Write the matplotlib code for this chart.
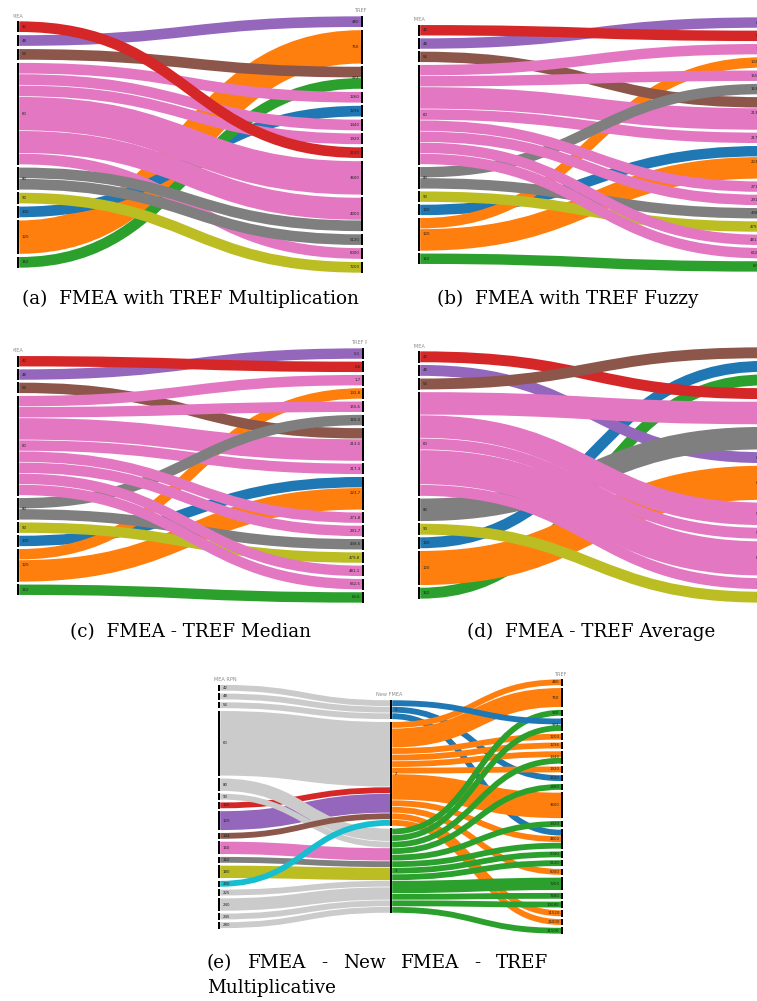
import matplotlib
matplotlib.use("Agg")
import matplotlib.pyplot as plt
from matplotlib.path import Path
from matplotlib.patches import PathPatch, Rectangle

# ---------------- data ----------------
fmea_rpn = ["42", "48", "54", "60", "80", "90", "100", "120", "162"]

# (a) FMEA -> TREF multiplication
a_right = ["480", "750", "972", "1260", "1296", "1440", "1920", "2520",
           "3600", "4000", "5120", "6000", "7200"]
a_src = ["120", "100", "162", "60", "60", "60", "60", "60", "60", "80", "80", "90", "54", "48", "42"]
a_tgt = ["750", "1296", "972", "1260", "1440", "1920", "3600", "4000", "6000", "4000", "5120", "7200", "972", "480", "2520"]
a_val = [3, 1, 1, 1, 1, 1, 3, 2, 1, 1, 1, 1, 1, 1, 1]

# (b) FMEA -> TREF fuzzy
b_right = ["0,1", "0,6", "1,7", "132,8", "155,6", "163,0", "213,5", "217,3", "223,7",
           "271,8", "291,7", "438,6", "479,8", "481,1", "662,5", "63,6"]
# (c) FMEA -> TREF median
c_right = ["0,1", "0,6", "1,7", "132,8", "155,6", "160,0", "213,5", "217,3", "223,7",
           "271,8", "291,7", "438,6", "479,8", "481,1", "662,5", "63,6"]
bc_src = ["162", "100", "120", "120", "90", "80", "54", "60", "60", "80", "60", "60",
          "60", "60", "60", "60", "48", "42"]
bc_tgt_idx = [15, 8, 8, 3, 12, 11, 6, 6, 7, 5, 2, 4, 9, 10, 13, 14, 0, 1]
bc_val = [1, 1, 2, 1, 1, 1, 1, 2, 1, 1, 1, 1, 1, 1, 1, 1, 1, 1]

# (d) FMEA -> TREF average
d_right = ["1", "2", "3", "4", "5", "6", "6,0", "6,3", "5,1", "5,4", "6,2", "7,0", "7,4"]
d_src = ["100", "162", "120", "48", "80", "60", "60", "60", "60", "60", "90", "42", "54"]
d_tgt_idx = [1, 2, 7, 6, 5, 4, 8, 9, 10, 11, 12, 3, 0]
d_val = [1, 1, 3, 1, 2, 2, 2, 1, 3, 1, 1, 1, 1]

# (e) FMEA -> New FMEA -> TREF multiplicative
e_left = ["42", "48", "54", "60", "80", "90", "100", "120", "144", "160", "162",
          "180", "200", "225", "240", "245", "280"]
e_mid = ["1", "2", "3"]
e_right = ["480", "750", "960", "972", "1200", "1296", "1440", "1920", "2520", "2880",
           "3600", "3920", "4800", "5040", "5120", "6000", "7200", "7680", "10080",
           "11520", "16000", "31500"]
e1_src = ["42", "48", "54", "60", "225", "240", "245", "280", "100", "120", "80", "90",
          "144", "160", "162", "180", "200"]
e1_tgt = ["1", "1", "1", "2", "3", "3", "3", "3", "2", "2", "3", "3", "2", "3", "3", "3", "2"]
e1_val = [1, 1, 1, 10, 1, 2, 1, 1, 1, 3, 2, 1, 1, 2, 1, 2, 1]
e2_src = ["1", "1",
          "2", "2", "2", "2", "2", "2", "2", "2", "2", "2", "2",
          "3", "3", "3", "3", "3", "3", "3", "3", "3", "3", "3", "3",
          "1"]
e2_tgt = ["2520", "4800",
          "480", "750", "1200", "1296", "1440", "1920", "3600", "4800", "6000", "11520", "16000",
          "960", "972", "1440", "2880", "3920", "4800", "5040", "5120", "7200", "7680", "10080", "31500",
          "972"]
e2_val = [1, 1,
          1, 3, 1, 1, 1, 1, 4, 1, 1, 1, 1,
          1, 1, 1, 1, 1, 1, 1, 1, 2, 1, 1, 1,
          1]

# ---------------- styles ----------------
rpn_colors = {"42": "#d62728", "48": "#9467bd", "54": "#8c564b", "60": "#e377c2",
              "80": "#7f7f7f", "90": "#bcbd22", "100": "#1f77b4", "120": "#ff7f0e",
              "162": "#2ca02c"}
e_left_colors = {"100": "#d62728", "120": "#9467bd", "144": "#8c564b", "160": "#e377c2",
                 "162": "#7f7f7f", "180": "#bcbd22", "200": "#17becf"}
e_mid_colors = {"1": "#1f77b4", "2": "#ff7f0e", "3": "#2ca02c"}
light = "#cbcbcb"

W, H = 757, 1001
fig = plt.figure(figsize=(W / 100, H / 100), dpi=100)


def panel(x0, y0, x1, y1):
    ax = fig.add_axes([x0 / W, 1 - y1 / H, (x1 - x0) / W, (y1 - y0) / H])
    ax.set_xlim(x0, x1)
    ax.set_ylim(y1, y0)
    ax.axis("off")
    return ax


def sankey(ax, cols, links, xs, top, bottom, pad, titles, bar=2.2):
    # links: (col, src, tgt, value, color) in drawing order
    nin, nout = {}, {}
    for c, s, t, v, _ in links:
        nout[(c, s)] = nout.get((c, s), 0) + v
        nin[(c + 1, t)] = nin.get((c + 1, t), 0) + v
    size = {(ci, n): max(nin.get((ci, n), 0), nout.get((ci, n), 0))
            for ci, col in enumerate(cols) for n in col}
    ky = min((bottom - top - (len(col) - 1) * pad) / sum(size[(ci, n)] for n in col)
             for ci, col in enumerate(cols))
    mid = (top + bottom) / 2
    ypos, idx = {}, {}
    for ci, col in enumerate(cols):
        h = sum(size[(ci, n)] for n in col) * ky + (len(col) - 1) * pad
        y = mid - h / 2
        for i, n in enumerate(col):
            ypos[(ci, n)] = y
            idx[(ci, n)] = i
            y += size[(ci, n)] * ky + pad
    sy, ty = {}, {}
    for ci, col in enumerate(cols):
        for n in col:
            outs = sorted([l for l in links if l[0] == ci and l[1] == n],
                          key=lambda l: idx[(ci + 1, l[2])])
            y = ypos[(ci, n)]
            for l in outs:
                sy[l] = y
                y += l[3] * ky
            ins = sorted([l for l in links if l[0] == ci - 1 and l[2] == n],
                         key=lambda l: idx[(ci - 1, l[1])])
            y = ypos[(ci, n)]
            for l in ins:
                ty[l] = y
                y += l[3] * ky
    for l in links:
        c, s, t, v, color = l
        w = v * ky
        x0, x1 = xs[c] + bar, xs[c + 1]
        y0, y1 = sy[l] + w / 2, ty[l] + w / 2
        xm = (x0 + x1) / 2
        p = Path([(x0, y0), (xm, y0), (xm, y1), (x1, y1)],
                 [Path.MOVETO, Path.CURVE4, Path.CURVE4, Path.CURVE4])
        ax.add_patch(PathPatch(p, fill=False, edgecolor=color,
                               lw=max(w - 0.7, 0.3) * 0.72, capstyle="butt"))
    last = len(cols) - 1
    for ci, col in enumerate(cols):
        ctop = ypos[(ci, col[0])]
        for n in col:
            h = size[(ci, n)] * ky
            ax.add_patch(Rectangle((xs[ci], ypos[(ci, n)]), bar, h, color="black", lw=0))
            if ci == last:
                ax.text(xs[ci] - 1.5, ypos[(ci, n)] + h / 2, n, ha="right", va="center",
                        fontsize=2.8, color="#222222")
            else:
                ax.text(xs[ci] + bar + 2.5, ypos[(ci, n)] + h / 2, n, ha="left", va="center",
                        fontsize=2.8, color="#222222")
        if ci == 0:
            ax.text(xs[ci] - 7, ctop - 2.5, titles[ci], ha="left", va="bottom",
                    fontsize=3.6, color="#8c8c8c", clip_on=True)
        else:
            ax.text(xs[ci] - 1, ctop - 2.5, titles[ci], ha="center", va="bottom",
                    fontsize=3.6, color="#8c8c8c", clip_on=True)


# (a)
ax = panel(13, 6, 367, 282)
links = [(0, s, t, v, rpn_colors[s]) for s, t, v in zip(a_src, a_tgt, a_val)]
sankey(ax, [fmea_rpn, a_right], links, [17, 361], 16, 273, 2.5, ["FMEA", "TREF"])

# (b)
ax = panel(414, 6, 775, 282)
links = [(0, s, b_right[t], v, rpn_colors[s]) for s, t, v in zip(bc_src, bc_tgt_idx, bc_val)]
sankey(ax, [fmea_rpn, b_right], links, [418, 763], 17, 272, 2.2, ["FMEA", "TREF"])

# (c)
ax = panel(13, 338, 367, 612)
links = [(0, s, c_right[t], v, rpn_colors[s]) for s, t, v in zip(bc_src, bc_tgt_idx, bc_val)]
sankey(ax, [fmea_rpn, c_right], links, [17, 362], 348, 603, 2.2, ["FMEA", "TREF PA"])

# (d)
ax = panel(414, 338, 775, 612)
links = [(0, s, d_right[t], v, rpn_colors[s]) for s, t, v in zip(d_src, d_tgt_idx, d_val)]
sankey(ax, [fmea_rpn, d_right], links, [418, 763], 347, 603, 2.0, ["FMEA", "TREF"])

# (e)
ax = panel(214, 666, 580, 942)
links = [(0, s, t, v, e_left_colors.get(s, light)) for s, t, v in zip(e1_src, e1_tgt, e1_val)]
links += [(1, s, t, v, e_mid_colors[s]) for s, t, v in zip(e2_src, e2_tgt, e2_val)]
sankey(ax, [e_left, e_mid, e_right], links, [218, 390, 561], 679, 934, 2.2,
       ["FMEA RPN", "New FMEA", "TREF"])

# captions
cap = dict(fontsize=13.2, family="DejaVu Serif", color="black", va="center")
fig.text(190 / W, 1 - 299 / H, "(a)  FMEA with TREF Multiplication", ha="center", **cap)
fig.text(568 / W, 1 - 299 / H, "(b)  FMEA with TREF Fuzzy", ha="center", **cap)
fig.text(190 / W, 1 - 632 / H, "(c)  FMEA - TREF Median", ha="center", **cap)
fig.text(591 / W, 1 - 632 / H, "(d)  FMEA - TREF Average", ha="center", **cap)

words = ["(e)", "FMEA", "-", "New", "FMEA", "-", "TREF"]
renderer = fig.canvas.get_renderer()
tw = []
for wd in words:
    t = fig.text(0, 0, wd, **cap)
    tw.append(t.get_window_extent(renderer).width)
    t.remove()
x_start, x_end = 207, 548
gap = (x_end - x_start - sum(tw)) / (len(words) - 1)
x = x_start
for wd, wdt in zip(words, tw):
    fig.text(x / W, 1 - 963 / H, wd, ha="left", **cap)
    x += wdt + gap
fig.text(207 / W, 1 - 988 / H, "Multiplicative", ha="left", **cap)

fig.savefig("out.png", dpi=100)
